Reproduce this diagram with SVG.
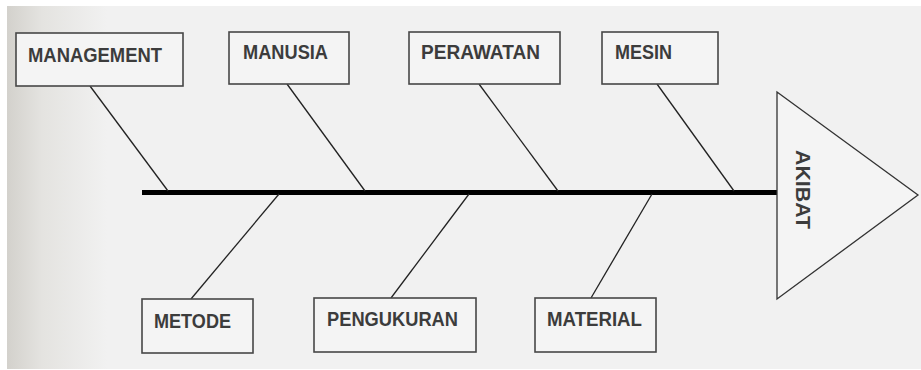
<svg xmlns="http://www.w3.org/2000/svg" width="921" height="370" viewBox="0 0 921 370">
<defs>
<linearGradient id="bg" x1="0" y1="0" x2="1" y2="0">
<stop offset="0" stop-color="#d3d1cc"/>
<stop offset="0.35" stop-color="#e4e3e0"/>
<stop offset="1" stop-color="#f1f1f1"/>
</linearGradient>
<style>
.box{fill:#f4f4f4;stroke:#474747;stroke-width:1.6}
.lbl{font-family:"Liberation Sans",Arial,sans-serif;font-weight:bold;font-size:20px;fill:#3c3c3c}
.bone{stroke:#222;stroke-width:1.3;fill:none}
</style>
</defs>
<rect x="0" y="0" width="921" height="370" fill="#ffffff"/>
<rect x="7" y="6" width="914" height="363" fill="#f1f1f1"/>
<rect x="7" y="6" width="100" height="363" fill="url(#bg)"/>
<g id="connectors">
<line x1="142" y1="192.5" x2="778" y2="192.5" stroke="#000" stroke-width="5"/>
<line class="bone" x1="90" y1="86" x2="168" y2="191"/>
<line class="bone" x1="287" y1="84" x2="365" y2="191"/>
<line class="bone" x1="479" y1="84" x2="558" y2="191"/>
<line class="bone" x1="657" y1="84" x2="734" y2="191"/>
<line class="bone" x1="279" y1="194" x2="191" y2="299"/>
<line class="bone" x1="469" y1="194" x2="391" y2="298"/>
<line class="bone" x1="652" y1="194" x2="591" y2="298"/>
</g>
<g id="management"><rect class="box" x="16" y="33" width="167" height="53"/><text class="lbl" x="28" y="62" textLength="134" lengthAdjust="spacingAndGlyphs">MANAGEMENT</text></g>
<g id="manusia"><rect class="box" x="229" y="32" width="120" height="52"/><text class="lbl" x="243" y="59" textLength="85" lengthAdjust="spacingAndGlyphs">MANUSIA</text></g>
<g id="perawatan"><rect class="box" x="409" y="32" width="151" height="52"/><text class="lbl" x="421" y="59" textLength="119" lengthAdjust="spacingAndGlyphs">PERAWATAN</text></g>
<g id="mesin"><rect class="box" x="602" y="32" width="116" height="52"/><text class="lbl" x="615" y="59" textLength="57" lengthAdjust="spacingAndGlyphs">MESIN</text></g>
<g id="metode"><rect class="box" x="142" y="299" width="111" height="54"/><text class="lbl" x="154" y="328" textLength="77" lengthAdjust="spacingAndGlyphs">METODE</text></g>
<g id="pengukuran"><rect class="box" x="314" y="298" width="162" height="54"/><text class="lbl" x="327" y="326" textLength="131" lengthAdjust="spacingAndGlyphs">PENGUKURAN</text></g>
<g id="material"><rect class="box" x="535" y="298" width="121" height="54"/><text class="lbl" x="547" y="326" textLength="95" lengthAdjust="spacingAndGlyphs">MATERIAL</text></g>
<g id="akibat"><polygon points="777,92 918,195 777,299" fill="#f4f4f4" stroke="#333" stroke-width="1.3"/><text class="lbl" transform="translate(796,150) rotate(90)" x="0" y="0" textLength="79" lengthAdjust="spacingAndGlyphs" font-size="22">AKIBAT</text></g>
</svg>
